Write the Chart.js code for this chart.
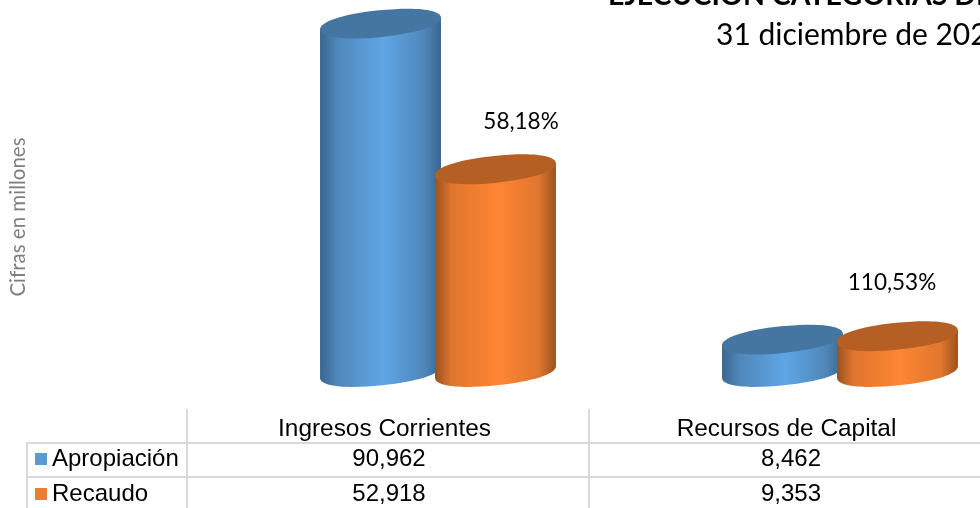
<!DOCTYPE html>
<html>
<head>
<meta charset="utf-8">
<title>Ejecución categorías</title>
<script src="https://cdn.jsdelivr.net/npm/chart.js@4"></script>
<style>
    html, body { margin: 0; padding: 0; background: #fff; overflow: hidden; width: 980px; height: 508px; }
    /* the reference is cropped on top and right, so the canvas runs past the window */
    #chart { position: absolute; left: 0; top: -40px; filter: blur(0.4px); }
</style>
</head>
<body>
<canvas id="chart" width="1060" height="548"></canvas>
<script>
// Data
const categories = ['Ingresos Corrientes', 'Recursos de Capital'];
const apropiacion = [90962, 8462];
const recaudo = [52918, 9353];
const ejecucion = ['58,18%', '110,53%'];
const seriesNames = ['Apropiación', 'Recaudo'];

const titleLines = ['EJECUCIÓN CATEGORÍAS DE', '31 diciembre de 202'];
const axisTitle = 'Cifras en millones';

// Colours for each cylinder: edge, mid, lit centre, top cap, legend key
const blue = { edge: '#39668f', mid: '#4f87ba', lit: '#5fa6e6', cap: '#4476a1', key: '#5b9bd5' };
const orange = { edge: '#9a5220', mid: '#e0762e', lit: '#ff8533', cap: '#b55f24', key: '#ed7d31' };
const palettes = [blue, orange];

const numberText = (v) => v.toLocaleString('en-US');

// Tilted oval, a touch blunter than a true ellipse like the 3D caps in the reference
function ovalPath(ctx, cx, cy, a, b) {
    const k = 0.6;
    ctx.save();
    ctx.translate(cx, cy);
    ctx.rotate(-5.9 * Math.PI / 180);
    ctx.beginPath();
    ctx.moveTo(a, 0);
    ctx.bezierCurveTo(a, k * b, k * a, b, 0, b);
    ctx.bezierCurveTo(-k * a, b, -a, k * b, -a, 0);
    ctx.bezierCurveTo(-a, -k * b, -k * a, -b, 0, -b);
    ctx.bezierCurveTo(k * a, -b, a, -k * b, a, 0);
    ctx.closePath();
    ctx.restore();
}

// Draws one bar element as a tilted 3D cylinder
function drawCylinder(ctx, bar, colors) {
    const halfW = bar.width / 2;
    const a = halfW + 0.3;
    const b = 13.4;
    const skew = 5.5;

    const grad = ctx.createLinearGradient(bar.x - halfW, 0, bar.x + halfW, 0);
    grad.addColorStop(0, colors.edge);
    grad.addColorStop(0.14, colors.mid);
    grad.addColorStop(0.52, colors.lit);
    grad.addColorStop(0.86, colors.mid);
    grad.addColorStop(1, colors.edge);

    ctx.fillStyle = grad;
    ctx.beginPath();
    ctx.moveTo(bar.x - halfW, bar.y + skew);
    ctx.lineTo(bar.x - halfW, bar.base + skew);
    ctx.lineTo(bar.x + halfW, bar.base - skew);
    ctx.lineTo(bar.x + halfW, bar.y - skew);
    ctx.closePath();
    ctx.fill();

    ovalPath(ctx, bar.x, bar.base, a, b);
    ctx.fill();

    ctx.fillStyle = colors.cap;
    ovalPath(ctx, bar.x, bar.y, a, b);
    ctx.fill();
}

// Blue first, then orange, so the orange cylinder overlaps the blue one
const cylinders = {
    id: 'cylinders',
    afterDatasetsDraw(chart) {
        palettes.forEach((colors, i) => {
            chart.getDatasetMeta(i).data.forEach((bar) => drawCylinder(chart.ctx, bar, colors));
        });
    }
};

// Title, axis title, percentage labels and the data table under the bars
const annotations = {
    id: 'annotations',
    afterDraw(chart) {
        const ctx = chart.ctx;
        const x = chart.scales.x;
        const colCenter = (i) => x.getPixelForValue(i) - 50; // the 3D floor sits right of the table
        const rowY = [429, 459, 494];
        const rows = [apropiacion, recaudo];

        ctx.save();
        ctx.translate(0, 40);
        ctx.textBaseline = 'alphabetic';

        // Title
        ctx.fillStyle = '#000';
        ctx.textAlign = 'left';
        ctx.font = 'bold 28.5px Lato';
        ctx.fillText(titleLines[0], 608, 5);
        ctx.font = '30px Lato';
        ctx.fillText(titleLines[1], 716, 45);

        // Axis title
        ctx.save();
        ctx.translate(25, 217);
        ctx.rotate(-Math.PI / 2);
        ctx.textAlign = 'center';
        ctx.fillStyle = '#7f7f7f';
        ctx.font = '20.5px Lato';
        ctx.fillText(axisTitle, 0, 0);
        ctx.restore();

        // Percentage labels
        ctx.textAlign = 'center';
        ctx.fillStyle = '#000';
        ctx.font = '22.5px Lato';
        ctx.fillText(ejecucion[0], 521, 129);
        ctx.fillText(ejecucion[1], 892, 290);

        // Table lines
        ctx.strokeStyle = '#d9d9d9';
        ctx.lineWidth = 2;
        ctx.beginPath();
        ctx.moveTo(187, 409); ctx.lineTo(187, 508);
        ctx.moveTo(589, 409); ctx.lineTo(589, 508);
        ctx.moveTo(27, 443); ctx.lineTo(27, 508);
        ctx.moveTo(26, 443); ctx.lineTo(980, 443);
        ctx.moveTo(26, 477); ctx.lineTo(980, 477);
        ctx.stroke();

        // Table text
        ctx.fillStyle = '#000';
        ctx.textBaseline = 'middle';
        ctx.font = '24.4px "Liberation Sans"';
        categories.forEach((name, i) => ctx.fillText(name, colCenter(i) - 3.5, rowY[0]));
        ctx.font = '24px "Liberation Sans"';
        rows.forEach((values, r) => {
            values.forEach((v, i) => ctx.fillText(numberText(v), colCenter(i) + 1, rowY[r + 1]));
            ctx.textAlign = 'left';
            ctx.fillText(seriesNames[r], 52, rowY[r + 1]);
            ctx.textAlign = 'center';
            ctx.fillStyle = palettes[r].key;
            ctx.fillRect(35, rowY[r + 1] - 6, 12, 12);
            ctx.fillStyle = '#000';
        });
        ctx.restore();
    }
};

new Chart(document.getElementById('chart').getContext('2d'), {
    type: 'bar',
    data: {
        labels: categories,
        datasets: [
            { label: seriesNames[0], data: apropiacion, backgroundColor: 'transparent' },
            { label: seriesNames[1], data: recaudo, backgroundColor: 'transparent' }
        ]
    },
    options: {
        responsive: false,
        animation: false,
        categoryPercentage: 0.572,
        barPercentage: 1.052,
        layout: { padding: { left: 237, right: 19, top: 29, bottom: 136 } },
        plugins: { legend: { display: false }, tooltip: { enabled: false } },
        scales: {
            x: { display: false },
            y: { display: false, min: 0, max: 100000 }
        }
    },
    plugins: [cylinders, annotations]
});
</script>
</body>
</html>
